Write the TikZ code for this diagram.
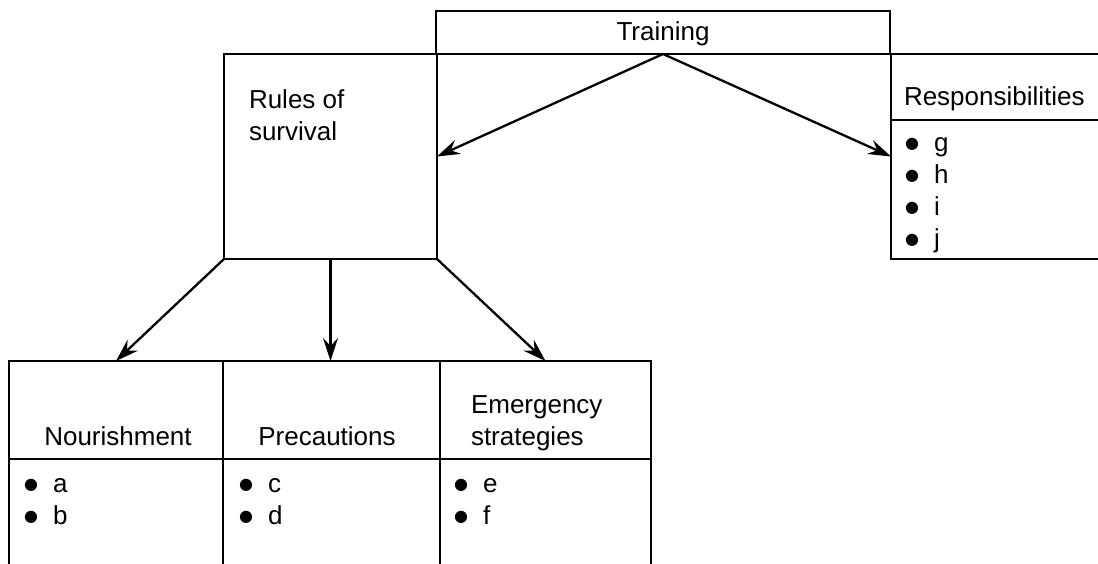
\documentclass[tikz,border=0pt]{standalone}
\usepackage{fontspec}
\setmainfont{Liberation Sans}
\newfontfamily\symfont{DejaVu Sans}
\usetikzlibrary{arrows.meta}
\newcommand{\bigbul}{\raisebox{2.5pt}{\symfont\fontsize{16}{20}\selectfont ●}}
\newcommand{\bl}[1]{\makebox[29pt][l]{\bigbul}#1}
\begin{document}
\begin{tikzpicture}[x=1pt,y=-1pt,
  box/.style={draw, line width=2.3pt, rectangle, inner sep=0pt, outer sep=0pt, anchor=north west},
  lbl/.style={font=\fontsize{26}{32}\selectfont, inner sep=0pt, outer sep=0pt},
  arr/.style={line width=2.3pt, -{Stealth[length=23pt,width=15pt,inset=8pt]}}
]
\useasboundingbox (0,0) rectangle (1098,563);
\clip (0,0) rectangle (1098,563);
% boxes
\node[box, minimum width=454pt, minimum height=43pt] (train) at (436,11) {};
\node[box, minimum width=213pt, minimum height=205pt] (rules) at (224,54) {};
\node[box, minimum width=240pt, minimum height=205pt] (resp) at (891,54) {};
\node[box, minimum width=240pt, minimum height=66pt] (resphead) at (891,54) {};
\node[box, minimum width=214pt, minimum height=98pt] (nh) at (9,361) {};
\node[box, minimum width=214pt, minimum height=160pt] (nb) at (9,459) {};
\node[box, minimum width=217pt, minimum height=98pt] (ph) at (223,361) {};
\node[box, minimum width=217pt, minimum height=160pt] (pb) at (223,459) {};
\node[box, minimum width=211pt, minimum height=98pt] (eh) at (440,361) {};
\node[box, minimum width=211pt, minimum height=160pt] (eb) at (440,459) {};
% texts
\node[lbl, anchor=base] (tTrain) at (663,40) {Training};
\node[lbl, anchor=base west] (tRules) at (249,108) {\begin{tabular}[t]{@{}l@{}}Rules of\\survival\end{tabular}};
\node[lbl, anchor=base west] (tResp) at (904,105) {Responsibilities};
\node[lbl, anchor=base west] (lResp) at (905,151) {\begin{tabular}[t]{@{}l@{}}\bl{g}\\\bl{h}\\\bl{i}\\\bl{j}\end{tabular}};
\node[lbl, anchor=base] (tNour) at (118,445) {Nourishment};
\node[lbl, anchor=base] (tPrec) at (327,445) {Precautions};
\node[lbl, anchor=base west] (tEmer) at (471,413) {\begin{tabular}[t]{@{}l@{}}Emergency\\strategies\end{tabular}};
\node[lbl, anchor=base west] (lNour) at (24,492) {\begin{tabular}[t]{@{}l@{}}\bl{a}\\\bl{b}\end{tabular}};
\node[lbl, anchor=base west] (lPrec) at (239,492) {\begin{tabular}[t]{@{}l@{}}\bl{c}\\\bl{d}\end{tabular}};
\node[lbl, anchor=base west] (lEmer) at (454,492) {\begin{tabular}[t]{@{}l@{}}\bl{e}\\\bl{f}\end{tabular}};
% arrows
\draw[arr] (train.south) -- (rules.east);
\draw[arr] (train.south) -- (resp.west);
\draw[arr] (rules.south west) -- (nh.north);
\draw[arr] (rules.south) -- (rules.south |- ph.north);
\draw[arr] (rules.south east) -- (eh.north);
\end{tikzpicture}
\end{document}
